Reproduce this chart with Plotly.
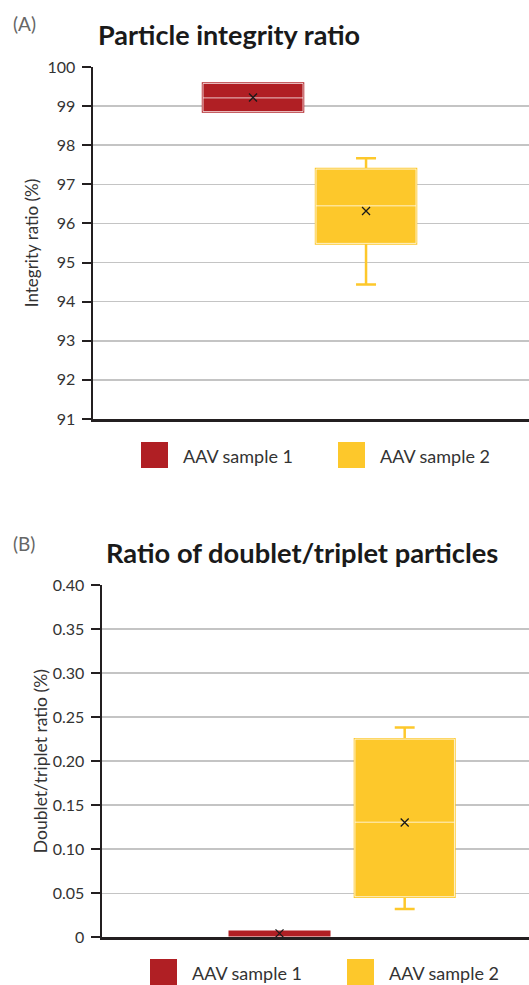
import plotly.graph_objects as go

W, H = 529, 985

samples = ["AAV sample 1", "AAV sample 2"]
colors = ["#B01F24", "#FDC82B"]

# Panel A: particle integrity ratio (%)
a_q1 = [98.86, 95.49]
a_median = [99.21, 96.45]
a_q3 = [99.58, 97.39]
a_min = [98.86, 94.44]
a_max = [99.58, 97.67]
a_mean = [99.22, 96.32]
a_tickvals = [91, 92, 93, 94, 95, 96, 97, 98, 99, 100]

# Panel B: ratio of doublet/triplet particles (%)
b_q1 = [0.0023, 0.0461]
b_median = [0.0040, 0.1307]
b_q3 = [0.0064, 0.2250]
b_min = [0.0023, 0.0322]
b_max = [0.0064, 0.2382]
b_mean = [0.0045, 0.1303]
b_tickvals = [0, 0.05, 0.10, 0.15, 0.20, 0.25, 0.30, 0.35, 0.40]
b_ticktext = ["0", "0.05", "0.10", "0.15", "0.20", "0.25", "0.30", "0.35", "0.40"]

FONT = "Lato"
AX = "#231f20"
GRID = "#c4c4c4"
TXT = "#333333"


def px(x):
    return x / W


def py(y):
    return 1 - y / H


fig = go.Figure()


def add_panel(xa, ya, q1, med, q3, lo, hi, mean, width, yspan):
    for i, s in enumerate(samples):
        fig.add_trace(go.Box(
            x=[s], q1=[q1[i]], median=[med[i]], q3=[q3[i]],
            lowerfence=[lo[i]], upperfence=[hi[i]],
            fillcolor=colors[i], line=dict(color=colors[i], width=2.5),
            width=width, whiskerwidth=0.2, boxpoints=False,
            xaxis=xa, yaxis=ya, showlegend=False, hoverinfo="skip"))
        # light median / outline overlay (only where the box is tall enough to show it)
        if (q3[i] - q1[i]) / yspan > 0.03:
            fig.add_trace(go.Box(
                x=[s], q1=[q1[i]], median=[med[i]], q3=[q3[i]],
                lowerfence=[q1[i]], upperfence=[q3[i]],
                fillcolor="rgba(0,0,0,0)", line=dict(color="rgba(255,255,255,0.75)", width=1),
                width=width, whiskerwidth=0, boxpoints=False,
                xaxis=xa, yaxis=ya, showlegend=False, hoverinfo="skip"))
    fig.add_trace(go.Scatter(
        x=samples, y=mean, mode="markers",
        marker=dict(symbol="x-thin", size=8, line=dict(color="#1a1a1a", width=1.3)),
        xaxis=xa, yaxis=ya, showlegend=False, hoverinfo="skip"))


add_panel("x", "y", a_q1, a_median, a_q3, a_min, a_max, a_mean, 0.885, 9)
add_panel("x2", "y2", b_q1, b_median, b_q3, b_min, b_max, b_mean, 0.795, 0.4)

xcommon = dict(type="category", categoryorder="array", categoryarray=samples,
               showticklabels=False, ticks="", showgrid=False, zeroline=False,
               showline=True, linecolor=AX, linewidth=2.5, fixedrange=True,
               automargin=False)
ycommon = dict(showline=True, linecolor=AX, linewidth=2.5, ticks="outside",
               ticklen=9, tickwidth=2, tickcolor=AX, showgrid=True,
               gridcolor=GRID, gridwidth=1.5, zeroline=False, automargin=False,
               tickfont=dict(family=FONT, size=16, color=TXT), ticklabelstandoff=3)

fig.update_layout(
    width=W, height=H,
    margin=dict(l=0, r=0, t=0, b=0, pad=0, autoexpand=False),
    plot_bgcolor="white", paper_bgcolor="white",
    boxmode="overlay",
    xaxis=dict(domain=[px(93), 1], range=[-1.416, 2.442], anchor="y", **xcommon),
    yaxis=dict(domain=[py(419), py(67)], range=[91, 100], tickvals=a_tickvals,
               anchor="x",
               title=dict(text="Integrity ratio (%)", standoff=5,
                          font=dict(family=FONT, size=17, color=TXT)), **ycommon),
    xaxis2=dict(domain=[px(102), 1], range=[-1.418, 1.993], anchor="y2", **xcommon),
    yaxis2=dict(domain=[py(937.3), py(585)], range=[0, 0.4], tickvals=b_tickvals,
                ticktext=b_ticktext, anchor="x2",
                title=dict(text="Doublet/triplet ratio (%)", standoff=1,
                           font=dict(family=FONT, size=17.5, color=TXT)), **ycommon),
    showlegend=False,
)

# Titles and panel labels
annots = [
    dict(text="(A)", x=px(11), y=py(23), xanchor="left", yanchor="middle",
         font=dict(family=FONT, size=19, color="#666666")),
    dict(text="<b>Particle integrity ratio</b>", x=px(96), y=py(34), xanchor="left",
         yanchor="middle", font=dict(family=FONT, size=27, color="#1a1a1a")),
    dict(text="(B)", x=px(11), y=py(543), xanchor="left", yanchor="middle",
         font=dict(family=FONT, size=19, color="#666666")),
    dict(text="<b>Ratio of doublet/triplet particles</b>", x=px(104), y=py(552),
         xanchor="left", yanchor="middle", font=dict(family=FONT, size=27.3, color="#1a1a1a")),
]

# Custom legends (large square swatches)
legend_rows = [(141, 442), (150, 959)]
item_step = 197
for lx, ly in legend_rows:
    for i, s in enumerate(samples):
        x0 = lx + i * item_step
        fig.add_shape(type="rect", xref="paper", yref="paper",
                      x0=px(x0), x1=px(x0 + 27), y0=py(ly + 26), y1=py(ly),
                      fillcolor=colors[i], line=dict(width=0))
        annots.append(dict(text=s, x=px(x0 + 40), y=py(ly + 13.5), xanchor="left",
                           yanchor="middle", font=dict(family=FONT, size=18, color=TXT)))

for a in annots:
    a.update(xref="paper", yref="paper", showarrow=False)
fig.update_layout(annotations=annots)

fig.write_html(
    "out.html",
    config={"displayModeBar": False, "staticPlot": True},
    post_script=(
        "document.documentElement.style.margin='0';"
        "document.body.style.margin='0';document.body.style.padding='0';"
        "document.body.style.overflow='hidden';"
    ),
)
